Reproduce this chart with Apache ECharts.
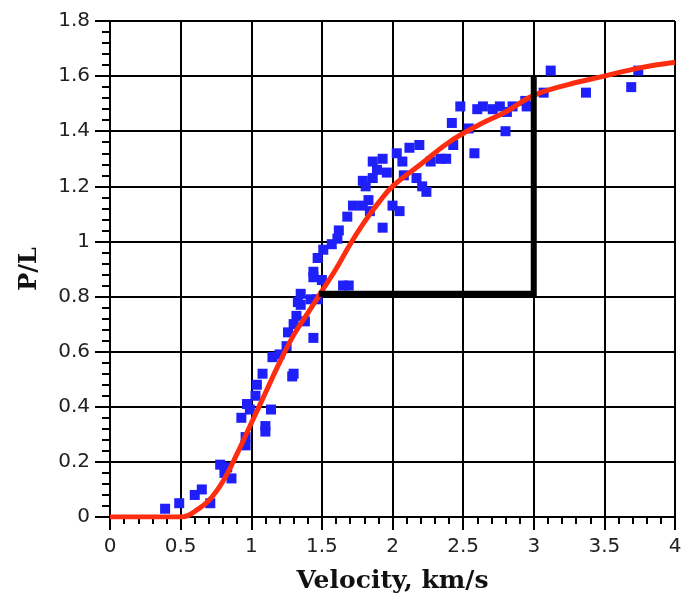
<!DOCTYPE html>
<html>
<head>
<meta charset="utf-8">
<script src="https://cdn.jsdelivr.net/npm/echarts@6/dist/echarts.min.js"></script>
<style>html,body{margin:0;padding:0;background:#fff;}#c{width:688px;height:599px;}</style>
</head>
<body>
<div id="c"></div>
<script>
// Measured data points (velocity km/s, P/L)
var velX = [0.39,0.49,0.60,0.65,0.71,0.78,0.81,0.83,0.86,0.93,0.96,0.96,0.97,0.99,1.03,1.04,1.08,1.10,1.10,1.14,
  1.15,1.20,1.25,1.26,1.29,1.30,1.30,1.32,1.33,1.35,1.35,1.38,1.42,1.44,1.44,1.44,1.47,1.47,1.50,1.51,
  1.57,1.61,1.62,1.65,1.69,1.68,1.72,1.79,1.84,1.83,1.93,2.00,2.05,1.79,1.81,1.86,1.89,1.86,1.93,1.96,
  2.03,2.07,2.12,2.19,2.08,2.17,2.21,2.24,2.27,2.34,2.38,2.43,2.42,2.48,2.54,2.58,2.60,2.64,2.71,2.76,
  2.81,2.80,2.85,2.94,2.95,3.07,3.12,3.37,3.69,3.74];
var plY = [0.03,0.05,0.08,0.10,0.05,0.19,0.16,0.18,0.14,0.36,0.29,0.26,0.41,0.39,0.44,0.48,0.52,0.31,0.33,0.39,
  0.58,0.59,0.62,0.67,0.51,0.52,0.70,0.73,0.78,0.77,0.81,0.71,0.79,0.65,0.87,0.89,0.79,0.94,0.86,0.97,
  0.99,1.01,1.04,0.84,0.84,1.09,1.13,1.13,1.11,1.15,1.05,1.13,1.11,1.22,1.20,1.23,1.26,1.29,1.30,1.25,
  1.32,1.29,1.34,1.35,1.24,1.23,1.20,1.18,1.29,1.30,1.30,1.35,1.43,1.49,1.41,1.32,1.48,1.49,1.48,1.49,
  1.47,1.40,1.49,1.51,1.49,1.54,1.62,1.54,1.56,1.62];

// Fitted curve (red)
var fitX = [0,0.5,0.55,0.6,0.7,0.8,0.9,1.0,1.1,1.2,1.3,1.4,1.5,1.6,1.7,1.8,1.9,2.0,2.2,2.4,2.6,2.8,3.0,3.25,3.5,3.75,4.0];
var fitY = [0,0,0.005,0.02,0.06,0.13,0.23,0.34,0.45,0.56,0.66,0.74,0.82,0.90,0.99,1.07,1.14,1.20,1.28,1.36,1.42,1.47,1.53,1.57,1.60,1.63,1.65];

// Black bracket line
var bracketX = [1.5, 3.0, 3.0];
var bracketY = [0.81, 0.81, 1.59];

// Axis ticks
var xTicks = [0, 0.5, 1, 1.5, 2, 2.5, 3, 3.5, 4];
var yTicks = [0, 0.2, 0.4, 0.6, 0.8, 1, 1.2, 1.4, 1.6, 1.8];

function pairs(xs, ys) { return xs.map(function (x, i) { return [x, ys[i]]; }); }

var chart = echarts.init(document.getElementById('c'), null, {renderer: 'canvas'});
var labelStyle = {color: '#222', fontFamily: 'DejaVu Sans', fontSize: 20};
chart.setOption({
  animation: false,
  backgroundColor: '#fff',
  grid: {left: 110, right: 13, top: 21, bottom: 79, containLabel: false},
  xAxis: {
    type: 'value', min: xTicks[0], max: xTicks[xTicks.length - 1], interval: 0.5,
    name: 'Velocity, km/s', nameLocation: 'middle', nameGap: 52,
    nameTextStyle: {fontFamily: 'DejaVu Serif', fontWeight: 'bold', fontSize: 25, color: '#111'},
    axisLine: {show: true, onZero: false, lineStyle: {color: '#000', width: 2}},
    axisTick: {show: true, length: 13, inside: false, lineStyle: {color: '#000', width: 2}},
    minorTick: {show: true, splitNumber: 5, length: 7, lineStyle: {color: '#000', width: 2}},
    splitLine: {show: true, lineStyle: {color: '#000', width: 2}},
    axisLabel: Object.assign({margin: 20, formatter: function (v) { return String(v); }}, labelStyle)
  },
  yAxis: {
    type: 'value', min: yTicks[0], max: yTicks[yTicks.length - 1], interval: 0.2,
    name: 'P/L', nameLocation: 'middle', nameGap: 68, nameRotate: 90,
    nameTextStyle: {fontFamily: 'DejaVu Serif', fontWeight: 'bold', fontSize: 24, color: '#111'},
    axisLine: {show: true, onZero: false, lineStyle: {color: '#000', width: 2}},
    axisTick: {show: true, length: 15, inside: false, lineStyle: {color: '#000', width: 2}},
    minorTick: {show: true, splitNumber: 5, length: 8, lineStyle: {color: '#000', width: 2}},
    splitLine: {show: true, lineStyle: {color: '#000', width: 2}},
    axisLabel: Object.assign({margin: 20, formatter: function (v) { return String(Math.round(v * 10) / 10); }}, labelStyle)
  },
  series: [
    {
      type: 'scatter', data: pairs(velX, plY), symbol: 'rect', symbolSize: 10,
      itemStyle: {color: '#1f1ffa', opacity: 1}, z: 3
    },
    {
      type: 'line', data: pairs(fitX, fitY), smooth: 0.4, showSymbol: false, symbol: 'none',
      lineStyle: {color: '#ff2d10', width: 5}, z: 4
    },
    {
      type: 'line', data: pairs(bracketX, bracketY), showSymbol: false, symbol: 'none',
      lineStyle: {color: '#000', width: 6, cap: 'square', join: 'miter'}, z: 5
    }
  ]
});
</script>
</body>
</html>
